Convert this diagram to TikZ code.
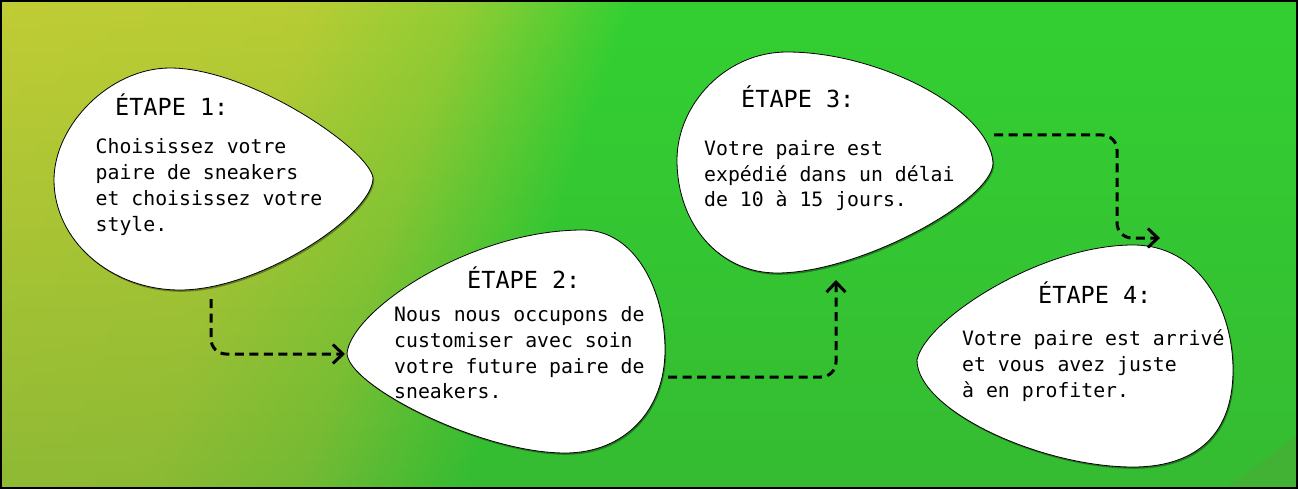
\documentclass[tikz,border=0pt]{standalone}
\usepackage{fontspec}
\newfontfamily\mono{DejaVu Sans Mono}
\usetikzlibrary{arrows.meta,shadows,fadings}
\definecolor{cA}{RGB}{193,205,53}
\definecolor{cB}{RGB}{184,205,53}
\definecolor{cC}{RGB}{145,205,52}
\definecolor{cG}{RGB}{51,208,51}
\definecolor{cOv}{RGB}{60,150,50}
\definecolor{cCorner}{RGB}{66,178,52}
\pgfdeclarehorizontalshading{bgshade}{100bp}{color(0bp)=(cA); color(25.25bp)=(cA); color(35.7bp)=(cB); color(41.07bp)=(cC); color(46.6bp)=(cG); color(100bp)=(cG)}
\tikzfading[name=vfade, top color=transparent!100, bottom color=transparent!0]
\newcommand\ttlfont{\mono\fontsize{23.5pt}{28pt}\selectfont}
\newcommand\bdyfont{\mono\fontsize{19.8pt}{26pt}\selectfont}
\begin{document}
\begin{tikzpicture}[x=1pt,y=-1pt,
  ttl/.style={anchor=base west, inner sep=0pt, font=\ttlfont, text=black},
  bdy/.style={anchor=base west, inner sep=0pt, font=\bdyfont, text=black},
  blob/.style={draw=black, line width=0.8pt, fill=white,
    drop shadow={shadow xshift=1.2pt, shadow yshift=-1.8pt, fill=black, opacity=0.35}},
  conn/.style={line width=3pt, dash pattern=on 9pt off 5.5pt, rounded corners=15pt,
    -{Straight Barb[length=10pt,width=19pt]}}]
\useasboundingbox (0,0) rectangle (1298,489);
% background
\begin{scope}
\clip (0,0) rectangle (1298,489);
\shade[shading=bgshade, shading angle=-19] (-51,-455.5) rectangle (1349,944.5);
\fill[cOv, path fading=vfade, fill opacity=0.35] (0,0) rectangle (1298,489);
\fill[cCorner] (1225,489) -- (1298,435) -- (1298,489) -- cycle;
\end{scope}
% blobs
\path[blob] (373,178) .. controls (370,150) and (250,68) .. (170,68)
  .. controls (110,68) and (54,125) .. (54,180)
  .. controls (54,240) and (110,290) .. (180,290)
  .. controls (260,290) and (373,215) .. (373,178) -- cycle;
\path[blob] (347,353) .. controls (352,310) and (470,230) .. (583,230)
  .. controls (635,230) and (665,290) .. (665,350)
  .. controls (665,410) and (625,453) .. (565,453)
  .. controls (480,453) and (347,385) .. (347,353) -- cycle;
\path[blob] (993,163) .. controls (990,110) and (880,52) .. (787,52)
  .. controls (725,52) and (677,105) .. (677,160)
  .. controls (677,225) and (720,273) .. (777,273)
  .. controls (860,273) and (993,200) .. (993,163) -- cycle;
\path[blob] (917,360) .. controls (925,320) and (1040,245) .. (1133,245)
  .. controls (1200,245) and (1233,310) .. (1233,370)
  .. controls (1233,440) and (1190,467) .. (1133,467)
  .. controls (1040,467) and (917,410) .. (917,360) -- cycle;
% texts
\node[ttl] (t1) at (115,116) {ÉTAPE 1:};
\node[bdy] (b1a) at (95.5,154) {Choisissez votre};
\node[bdy] (b1b) at (95.5,180) {paire de sneakers};
\node[bdy] (b1c) at (95.5,206) {et choisissez votre};
\node[bdy] (b1d) at (95.5,232) {style.};
\node[ttl] (t2) at (467,288) {ÉTAPE 2:};
\node[bdy] (b2a) at (394,321) {Nous nous occupons de};
\node[bdy] (b2b) at (394,347) {customiser avec soin};
\node[bdy] (b2c) at (394,373) {votre future paire de};
\node[bdy] (b2d) at (394,398) {sneakers.};
\node[ttl] (t3) at (741,108) {ÉTAPE 3:};
\node[bdy] (b3a) at (704,156) {Votre paire est};
\node[bdy] (b3b) at (704,182) {expédié dans un délai};
\node[bdy] (b3c) at (704,207) {de 10 à 15 jours.};
\node[ttl] (t4) at (1038,303) {ÉTAPE 4:};
\node[bdy] (b4a) at (962,345) {Votre paire est arrivé};
\node[bdy] (b4b) at (962,371) {et vous avez juste};
\node[bdy] (b4c) at (962,397) {à en profiter.};
% connectors
\coordinate (c1s) at (211,299);
\coordinate (c1e) at (345,354);
\coordinate (c2s) at (668,377);
\coordinate (c2e) at (836,280);
\coordinate (c3s) at (994,135);
\coordinate (c3m) at (1117,190);
\coordinate (c3e) at (1160,238);
\draw[conn] (c1s) |- (c1e);
\draw[conn] (c2s) -| (c2e);
\draw[conn] (c3s) -| (c3m) |- (c3e);
% border
\draw[line width=2pt] (1,1) rectangle (1297,488);
\end{tikzpicture}
\end{document}
